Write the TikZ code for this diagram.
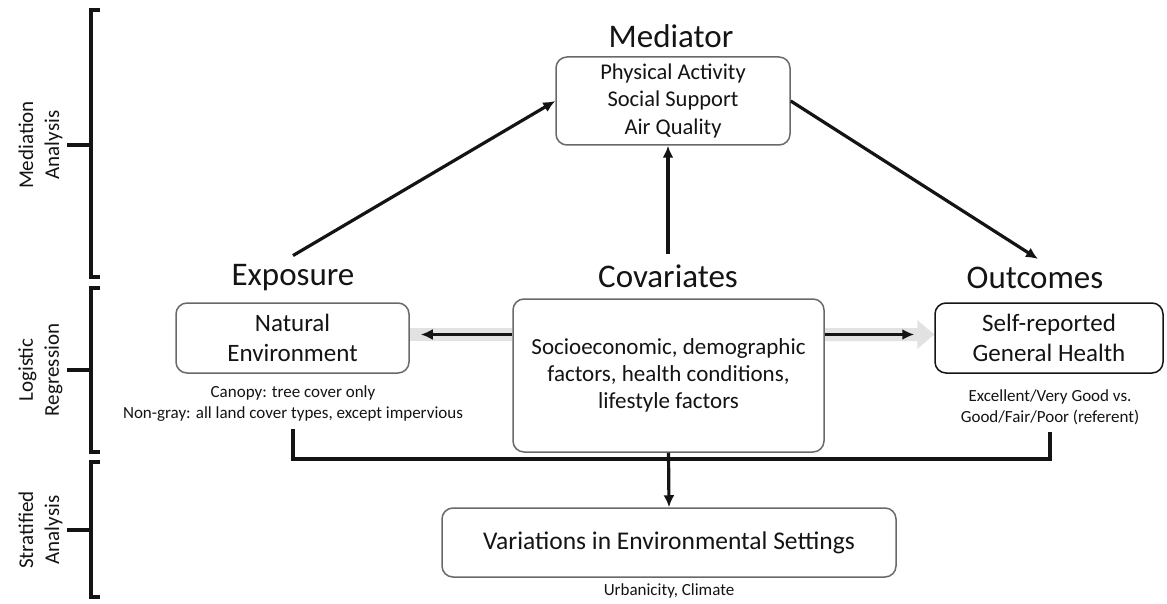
\documentclass[tikz,border=0pt]{standalone}
\usepackage{fontspec}
\setmainfont{Carlito}
\usetikzlibrary{arrows.meta,calc,backgrounds}
\definecolor{boxgray}{RGB}{105,105,105}
\definecolor{bandgray}{RGB}{226,226,226}
\definecolor{ink}{RGB}{20,20,20}
\begin{document}
\begin{tikzpicture}[x=1pt,y=-1pt,
  every node/.style={text=ink},
  box/.style={draw=boxgray, line width=1.5pt, rounded corners=11pt, fill=white, align=center, inner sep=0pt},
  ttl/.style={font=\fontsize{33}{38}\selectfont, inner sep=0pt},
  boxtxt/.style={font=\fontsize{25}{30}\selectfont},
  note/.style={font=\fontsize{17}{21}\selectfont, align=center, inner sep=0pt},
  side/.style={font=\fontsize{21}{26}\selectfont, align=center, rotate=90, inner sep=0pt},
  arr/.style={draw=ink, line width=3.2pt, -{Latex[length=12pt,width=11pt]}},
  link/.style={draw=ink, line width=3.2pt},
  brk/.style={draw=ink, line width=3.2pt},
]
\useasboundingbox (0,0) rectangle (1167,604);

% titles
\node[ttl] (medt) at (671,36) {Mediator};
\node[ttl] (expt) at (293,278) {Exposure};
\node[ttl] (covt) at (668,276) {Covariates};
\node[ttl] (outt) at (1035,278) {Outcomes};

% boxes
\node[box, minimum width=234, minimum height=88, font=\fontsize{22.5}{27.5}\selectfont] (med) at (673,101) {Physical Activity\\Social Support\\Air Quality};
\node[box, minimum width=233, minimum height=70, boxtxt] (expo) at (292.5,338) {Natural\\Environment};
\node[box, minimum width=311, minimum height=153, font=\fontsize{23}{27}\selectfont] (cov) at (668.5,375.5) {Socioeconomic, demographic\\factors, health conditions,\\lifestyle factors};
\node[box, draw=ink, minimum width=228, minimum height=70, boxtxt] (out) at (1049,338) {Self-reported\\General Health};
\node[box, minimum width=454, minimum height=69, font=\fontsize{25.5}{30}\selectfont] (var) at (669,542.5) {Variations in Environmental Settings};

% notes
\node[note] (expn) at (293,403.5) {Canopy: tree cover only\\Non-gray: all land cover types, except impervious};
\node[note] (outn) at (1050,407) {Excellent/Very Good vs.\\Good/Fair/Poor (referent)};
\node[note] (varn) at (669,591) {Urbanicity, Climate};

% white page and grey bands behind everything
\begin{scope}[on background layer]
  \fill[white] (0,0) rectangle (1167,604);
  \fill[bandgray] (expo.east |- 0,328) rectangle (cov.west |- 0,341);
  \fill[bandgray] (cov.east |- 0,328) -- ($(out.west |- 0,328)+(-17,0)$) -- ($(out.west |- 0,320)+(-17,0)$)
     -- (out.west |- 0,334.5) -- ($(out.west |- 0,349)+(-17,0)$) -- ($(out.west |- 0,341)+(-17,0)$)
     -- (cov.east |- 0,341) -- cycle;
\end{scope}

% arrows
\draw[arr] ($(expt.north)+(0,-9)$) -- (med.west);
\draw[arr] ([yshift=10pt]covt.north) -- (covt.north |- med.south);
\draw[arr] (med.east) -- ($(outt.north)+(3,-8)$);
\draw[arr] (cov.west |- 0,334.5) -- ($(expo.east |- 0,334.5)+(11,0)$);
\draw[arr] (cov.east |- 0,334.5) -- ($(out.west |- 0,334.5)+(-20,0)$);
\draw[link] ($(expn.south)+(0,7)$) -- (expn.south |- 0,459) -- (outn.south |- 0,459) -- ($(outn.south)+(0,7)$);
\draw[arr] (cov.south) -- (var.north);

% brackets
\draw[brk] (100,10) -- (91,10) -- (91,277) -- (100,277);
\draw[brk] (67,145) -- (91,145);
\draw[brk] (100,288) -- (91,288) -- (91,452) -- (100,452);
\draw[brk] (67,370) -- (91,370);
\draw[brk] (100,462) -- (91,462) -- (91,597) -- (100,597);
\draw[brk] (67,530) -- (91,530);
\node[side] (lab1) at (40.5,145) {Mediation\\Analysis};
\node[side] (lab2) at (40.5,370) {Logistic\\Regression};
\node[side] (lab3) at (40.5,530) {Stratified\\Analysis};
\end{tikzpicture}
\end{document}
